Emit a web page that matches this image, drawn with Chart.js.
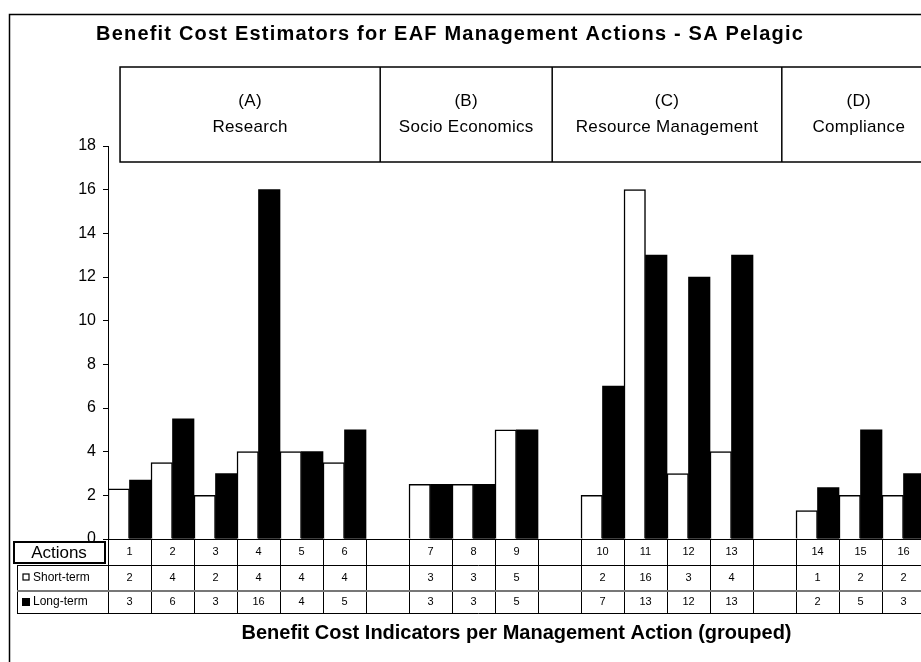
<!DOCTYPE html>
<html>
<head>
<meta charset="utf-8">
<script src="https://cdn.jsdelivr.net/npm/chart.js@4.4.0/dist/chart.umd.min.js"></script>
<style>
html, body { margin: 0; padding: 0; background: #fff; overflow: hidden; }
#wrap { width: 940px; height: 662px; }
</style>
</head>
<body>
<div id="wrap"><canvas id="chart" width="940" height="662"></canvas></div>
<script>
// Actions along the x axis, '' is the spacer between groups
const actions = ['1', '2', '3', '4', '5', '6', '', '7', '8', '9', '', '10', '11', '12', '13', '', '14', '15', '16'];
// bar heights as drawn
const shortTerm = [2.3, 3.5, 2, 4, 4, 3.5, null, 2.5, 2.5, 5, null, 2, 16, 3, 4, null, 1.3, 2, 2];
const longTerm = [2.7, 5.5, 3, 16, 4, 5, null, 2.5, 2.5, 5, null, 7, 13, 12, 13, null, 2.35, 5, 3];
// numbers printed in the table under the plot
const shortTable = ['2', '4', '2', '4', '4', '4', '', '3', '3', '5', '', '2', '16', '3', '4', '', '1', '2', '2'];
const longTable = ['3', '6', '3', '16', '4', '5', '', '3', '3', '5', '', '7', '13', '12', '13', '', '2', '5', '3'];
const yMax = 18;
const yStep = 2;
// header boxes above the plot
const groupCodes = ['(A)', '(B)', '(C)', '(D)'];
const groupNames = ['Research', 'Socio Economics', 'Resource Management', 'Compliance'];
const groupEdges = [0.28, 6.33, 10.33, 15.67, 19.25]; // in slot units from the left axis

const FONT = '"Liberation Sans", Arial, sans-serif';

const decorations = {
    id: 'decorations',
    beforeDraw(chart) {
        const ctx = chart.ctx;
        ctx.save();
        ctx.fillStyle = '#fff';
        ctx.fillRect(0, 0, chart.width, chart.height);
        ctx.restore();
    },
    afterDraw(chart) {
        const ctx = chart.ctx;
        const area = chart.chartArea;
        const xs = chart.scales.x;
        const slot = (area.right - area.left) / actions.length;
        const edge = i => area.left + i * slot;

        ctx.save();
        ctx.strokeStyle = '#000';
        ctx.fillStyle = '#000';

        // outer frame
        ctx.lineWidth = 1.5;
        ctx.strokeRect(9.5, 14.5, chart.width + 20, chart.height + 20);

        // title
        ctx.textAlign = 'center';
        ctx.textBaseline = 'middle';
        ctx.font = 'bold 20px ' + FONT;
        ctx.letterSpacing = '1.2px';
        ctx.fillText('Benefit Cost Estimators for EAF Management Actions - SA Pelagic', 450, 34);

        // header boxes
        const hTop = 67, hBot = 162;
        ctx.lineWidth = 1.5;
        ctx.strokeRect(edge(groupEdges[0]), hTop, edge(groupEdges[4]) - edge(groupEdges[0]), hBot - hTop);
        ctx.font = '17px ' + FONT;
        ctx.letterSpacing = '0.3px';
        for (let g = 0; g < groupCodes.length; g++) {
            const x0 = edge(groupEdges[g]), x1 = edge(groupEdges[g + 1]);
            if (g > 0) {
                ctx.beginPath();
                ctx.moveTo(x0, hTop);
                ctx.lineTo(x0, hBot);
                ctx.stroke();
            }
            const cx = (x0 + x1) / 2;
            ctx.fillText(groupCodes[g], cx, 101);
            ctx.fillText(groupNames[g], cx, 127);
        }
        ctx.letterSpacing = '0px';

        // data table
        const rows = [540, 565, 591, 613];
        ctx.lineWidth = 1;
        ctx.beginPath();
        for (let i = 0; i <= actions.length; i++) {
            const x = Math.round(edge(i)) + 0.5;
            ctx.moveTo(x, rows[0]);
            ctx.lineTo(x, rows[3]);
        }
        ctx.moveTo(17.5, rows[1]);
        ctx.lineTo(17.5, rows[3]);
        ctx.moveTo(17, rows[1] + 0.5);
        ctx.lineTo(chart.width, rows[1] + 0.5);
        ctx.moveTo(17, rows[3] + 0.5);
        ctx.lineTo(chart.width, rows[3] + 0.5);
        ctx.stroke();
        ctx.strokeStyle = '#777';
        ctx.lineWidth = 2;
        ctx.beginPath();
        ctx.moveTo(17, rows[2]);
        ctx.lineTo(chart.width, rows[2]);
        ctx.stroke();

        ctx.font = '11px ' + FONT;
        actions.forEach((a, i) => {
            const cx = xs.getPixelForValue(i);
            ctx.fillText(a, cx, 552);
            ctx.fillText(shortTable[i], cx, 578);
            ctx.fillText(longTable[i], cx, 602);
        });

        // row labels
        ctx.strokeStyle = '#000';
        ctx.lineWidth = 2;
        ctx.strokeRect(14, 542, 91, 21);
        ctx.font = '17px ' + FONT;
        ctx.fillText('Actions', 59, 553);

        ctx.lineWidth = 1.2;
        ctx.fillStyle = '#fff';
        ctx.fillRect(23, 574, 6, 6);
        ctx.strokeRect(23, 574, 6, 6);
        ctx.fillStyle = '#000';
        ctx.fillRect(22, 598, 8, 8);
        ctx.textAlign = 'left';
        ctx.font = '12px ' + FONT;
        ctx.fillText('Short-term', 33, 578);
        ctx.fillText('Long-term', 33, 602);

        // x axis title
        ctx.textAlign = 'center';
        ctx.font = 'bold 20px ' + FONT;
        ctx.fillText('Benefit Cost Indicators per Management Action (grouped)', (area.left + area.right) / 2, 633);

        ctx.restore();
    }
};

new Chart(document.getElementById('chart'), {
    type: 'bar',
    data: {
        labels: actions,
        datasets: [
            {
                label: 'Short-term',
                data: shortTerm,
                backgroundColor: '#fff',
                borderColor: '#000',
                borderWidth: 1.5
            },
            {
                label: 'Long-term',
                data: longTerm,
                backgroundColor: '#000',
                borderColor: '#000',
                borderWidth: 0
            }
        ]
    },
    options: {
        responsive: false,
        animation: false,
        layout: { padding: { top: 146, bottom: 123, left: 0, right: 15 } },
        datasets: { bar: { barPercentage: 1, categoryPercentage: 1 } },
        plugins: {
            legend: { display: false },
            tooltip: { enabled: false },
            title: { display: false }
        },
        scales: {
            x: {
                ticks: { display: false },
                grid: { display: false },
                border: { display: true, color: '#000', width: 1 },
                afterFit: s => { s.height = 0; }
            },
            y: {
                min: 0,
                max: yMax,
                ticks: {
                    stepSize: yStep,
                    color: '#000',
                    padding: 7,
                    font: { family: FONT, size: 16 }
                },
                grid: { display: true, drawOnChartArea: false, drawTicks: true, tickLength: 5, color: '#000' },
                border: { display: true, color: '#000', width: 1 },
                afterFit: s => { s.width = 108; }
            }
        }
    },
    plugins: [decorations]
});
</script>
</body>
</html>
